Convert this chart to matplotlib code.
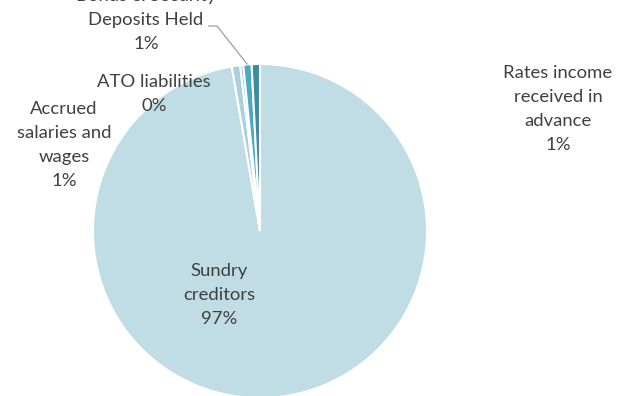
import matplotlib
matplotlib.use("Agg")
import matplotlib.pyplot as plt
import numpy as np

categories = ["Sundry creditors", "Accrued salaries and wages", "ATO liabilities",
              "Bonds & Security Deposits Held", "Rates income received in advance"]
label_texts = ["Sundry\ncreditors", "Accrued\nsalaries and\nwages", "ATO liabilities",
               "Bonds & Security\nDeposits Held", "Rates income\nreceived in\nadvance"]
values = [97.3, 0.8, 0.3, 0.8, 0.8]
colors = ["#C0DCE4", "#A9D0DC", "#8CC3D3", "#4BA9C2", "#3A8DA5"]

W, H = 633, 396
fig = plt.figure(figsize=(W / 100, H / 100), dpi=100)
ax = fig.add_axes([0, 0, 1, 1])

cx, cy, r = 260, H - 231, 167
wedges, _ = ax.pie(values, colors=colors, startangle=90, counterclock=False,
                   center=(cx, cy), radius=r, frame=True,
                   wedgeprops=dict(edgecolor="white", linewidth=1.5))
ax.set_xlim(0, W)
ax.set_ylim(0, H)
ax.set_aspect("equal")
ax.axis("off")

total = sum(values)
pcts = [round(v / total * 100) for v in values]

# label positions in image pixels (x, y from top)
label_pos = [(219, 295), (64, 145), (154, 94), (146, 20), (558, 109)]
txt_color = "#404040"
for txt, p, (lx, ly) in zip(label_texts, pcts, label_pos):
    ax.text(lx, H - ly, f"{txt}\n{p}%", ha="center", va="center", fontsize=13.3,
            color=txt_color, family="Lato", linespacing=1.6)

# leader line for Bonds slice
w = wedges[3]
mid = np.deg2rad((w.theta1 + w.theta2) / 2)
ex, ey = cx + r * np.cos(mid), cy + r * np.sin(mid)
ax.plot([208, 217, ex], [H - 26, H - 26, ey], color="#A6A6A6", linewidth=1,
        solid_capstyle="butt")

fig.savefig("out.png", dpi=100)
